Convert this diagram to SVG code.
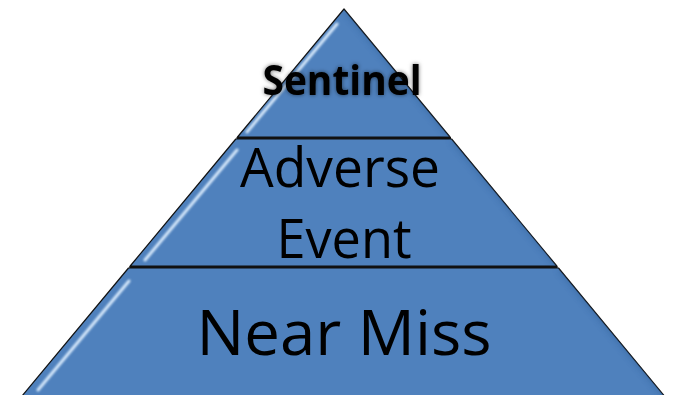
<svg xmlns="http://www.w3.org/2000/svg" width="674" height="395" viewBox="0 0 674 395">
  <style>
    .tier { fill: #4f81bd; stroke: #111; stroke-width: 1.2; stroke-linejoin: round; }
    .hi { fill: none; stroke: #d6e8fb; stroke-width: 3; stroke-linecap: round; filter: url(#soft); }
    .lip { fill: none; stroke: #b8d2ee; stroke-width: 2; filter: url(#soft); }
    .shade { fill: none; stroke: #2f5f98; stroke-width: 7; opacity: 0.55; filter: url(#blur3); }
    .divider { stroke: #111; stroke-width: 2; }
    .label { font-family: "Open Sans", "Liberation Sans", Arial, sans-serif; fill: #000; text-anchor: middle; }
  </style>
  <defs>
    <filter id="soft" x="-20%" y="-20%" width="140%" height="140%">
      <feGaussianBlur stdDeviation="0.8"/>
    </filter>
    <filter id="blur3" x="-20%" y="-20%" width="140%" height="140%">
      <feGaussianBlur stdDeviation="3"/>
    </filter>
    <filter id="glow" x="-20%" y="-40%" width="140%" height="180%">
      <feGaussianBlur in="SourceAlpha" stdDeviation="2.2" result="b"/>
      <feFlood flood-color="#000" flood-opacity="0.55"/>
      <feComposite in2="b" operator="in" result="s"/>
      <feMerge>
        <feMergeNode in="s"/>
        <feMergeNode in="SourceGraphic"/>
      </feMerge>
    </filter>
    <clipPath id="clip-top"><polygon points="344,9 237.5,137 450,137"/></clipPath>
    <clipPath id="clip-mid"><polygon points="235.8,139 451.6,139 556.8,266 130.2,266"/></clipPath>
    <clipPath id="clip-base"><polygon points="128.5,268 558.5,268 664.4,396 22,396"/></clipPath>
  </defs>

  <!-- top tier -->
  <g id="sentinel">
    <polygon class="tier" points="344,9 237.5,137 450,137"/>
    <g clip-path="url(#clip-top)">
      <line class="shade" x1="347" y1="9" x2="453" y2="137"/>
      <line class="hi" x1="337" y1="24" x2="247" y2="132"/>
    </g>
    <text class="label" x="342" y="95" font-size="41" font-weight="bold" textLength="159" lengthAdjust="spacingAndGlyphs" filter="url(#glow)">Sentinel</text>
  </g>

  <!-- middle tier -->
  <g id="adverse-event">
    <polygon class="tier" points="235.8,139 451.6,139 556.8,266 130.2,266"/>
    <g clip-path="url(#clip-mid)">
      <line class="shade" x1="454" y1="139" x2="560" y2="266"/>
      <line class="lip" x1="236" y1="141.5" x2="451" y2="141.5"/>
      <line class="hi" x1="237" y1="150" x2="145" y2="260"/>
    </g>
    <text class="label" x="340" y="187" font-size="55" textLength="200" lengthAdjust="spacingAndGlyphs">Adverse</text>
    <text class="label" x="344" y="258" font-size="55" textLength="135" lengthAdjust="spacingAndGlyphs">Event</text>
  </g>

  <!-- base tier -->
  <g id="near-miss">
    <polygon class="tier" points="128.5,268 558.5,268 664.4,396 22,396"/>
    <g clip-path="url(#clip-base)">
      <line class="shade" x1="561" y1="268" x2="667" y2="396"/>
      <line class="lip" x1="129" y1="270.5" x2="558" y2="270.5"/>
      <line class="hi" x1="129" y1="281" x2="38" y2="390"/>
    </g>
    <text class="label" x="344" y="355" font-size="63" textLength="295" lengthAdjust="spacingAndGlyphs">Near Miss</text>
  </g>

  <!-- tier dividers -->
  <g id="dividers">
    <line class="divider" x1="236.5" y1="138" x2="451" y2="138"/>
    <line class="divider" x1="129.3" y1="267" x2="557.6" y2="267"/>
  </g>
</svg>
